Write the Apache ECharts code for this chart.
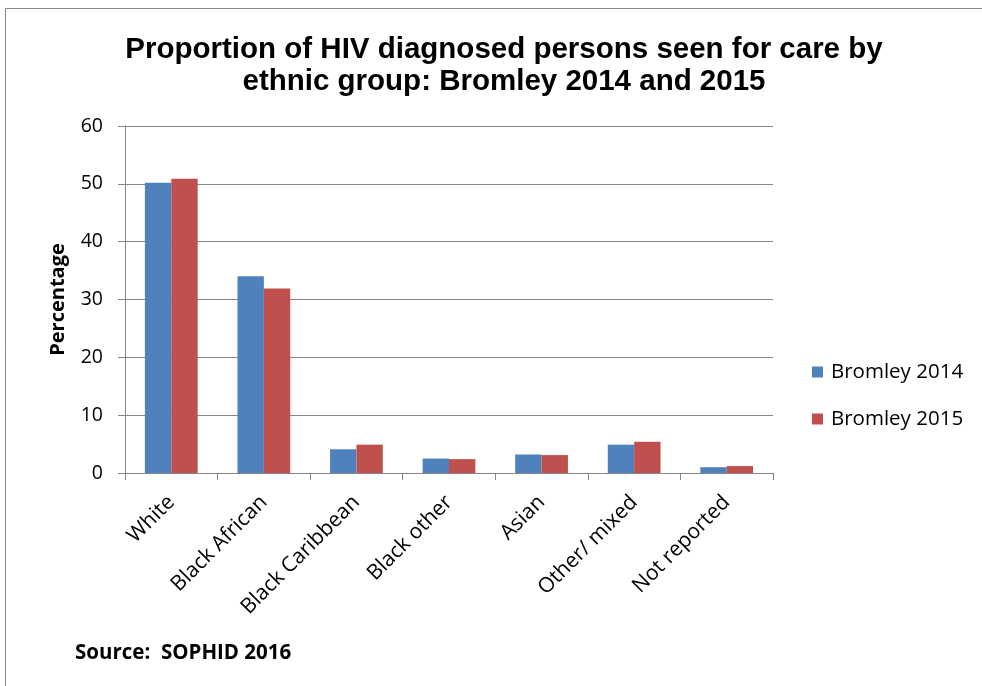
<!DOCTYPE html>
<html>
<head>
<meta charset="utf-8">
<script src="https://cdn.jsdelivr.net/npm/echarts@6/dist/echarts.min.js"></script>
<style>
html,body{margin:0;padding:0;background:#fff;}
#chart{width:982px;height:686px;}
</style>
</head>
<body>
<div id="chart"></div>
<script>
const categories = ['White', 'Black African', 'Black Caribbean', 'Black other', 'Asian', 'Other/ mixed', 'Not reported'];
const bromley2014 = [50.2, 34.0, 4.1, 2.5, 3.2, 4.9, 1.0];
const bromley2015 = [50.9, 31.9, 4.9, 2.4, 3.1, 5.4, 1.2];
const seriesNames = ['Bromley 2014', 'Bromley 2015'];
const yTicks = { min: 0, max: 60, interval: 10 };

const chart = echarts.init(document.getElementById('chart'), null, { renderer: 'canvas' });
const gray = '#868686';
const bodyFont = '"Open Sans", sans-serif';
chart.setOption({
  animation: false,
  backgroundColor: '#fff',
  title: {
    text: 'Proportion of HIV diagnosed persons seen for care by\nethnic group: Bromley 2014 and 2015',
    left: 499,
    top: 29,
    textAlign: 'center',
    textStyle: {
      fontFamily: '"Liberation Sans", Arial, sans-serif',
      fontWeight: 'bold',
      fontSize: 29.5,
      lineHeight: 32,
      color: '#000'
    }
  },
  legend: {
    orient: 'vertical',
    left: 807,
    top: 356,
    itemWidth: 11,
    itemHeight: 11,
    itemGap: 25,
    icon: 'rect',
    data: seriesNames,
    textStyle: { fontFamily: bodyFont, fontSize: 20.5, lineHeight: 22, color: '#000', padding: [0, 0, 0, 3] }
  },
  grid: { left: 125, right: 209, top: 126, bottom: 213, containLabel: false },
  xAxis: {
    type: 'category',
    data: categories,
    axisLine: { show: true, lineStyle: { color: gray, width: 1 } },
    axisTick: { show: true, length: 7, lineStyle: { color: gray } },
    axisLabel: {
      interval: 0,
      rotate: 45,
      margin: 26,
      fontFamily: bodyFont,
      fontSize: 21,
      color: '#000'
    }
  },
  yAxis: {
    type: 'value',
    min: yTicks.min,
    max: yTicks.max,
    interval: yTicks.interval,
    name: 'Percentage',
    nameLocation: 'middle',
    nameRotate: 90,
    nameGap: 57,
    nameTextStyle: { fontFamily: bodyFont, fontWeight: 'bold', fontSize: 20, color: '#000' },
    axisLine: { show: true, lineStyle: { color: gray, width: 1 } },
    axisTick: { show: true, length: 7, lineStyle: { color: gray } },
    splitLine: { show: true, lineStyle: { color: gray, width: 1 } },
    axisLabel: { margin: 22, fontFamily: bodyFont, fontSize: 19.5, color: '#000' }
  },
  series: [
    {
      name: seriesNames[0],
      type: 'bar',
      data: bromley2014,
      itemStyle: { color: '#4F81BD' },
      barGap: '0%',
      barCategoryGap: '43%'
    },
    {
      name: seriesNames[1],
      type: 'bar',
      data: bromley2015,
      itemStyle: { color: '#C0504D' },
      barGap: '0%',
      barCategoryGap: '43%'
    }
  ],
  graphic: [
    {
      type: 'rect',
      shape: { x: 5.5, y: 8.5, width: 1100, height: 800 },
      style: { fill: 'none', stroke: gray, lineWidth: 1 },
      silent: true
    },
    {
      type: 'text',
      left: 75,
      top: 643,
      style: {
        text: 'Source:  SOPHID 2016',
        fontFamily: bodyFont,
        fontWeight: 'bold',
        fontSize: 20.5,
        fill: '#000'
      }
    }
  ]
});
</script>
</body>
</html>
